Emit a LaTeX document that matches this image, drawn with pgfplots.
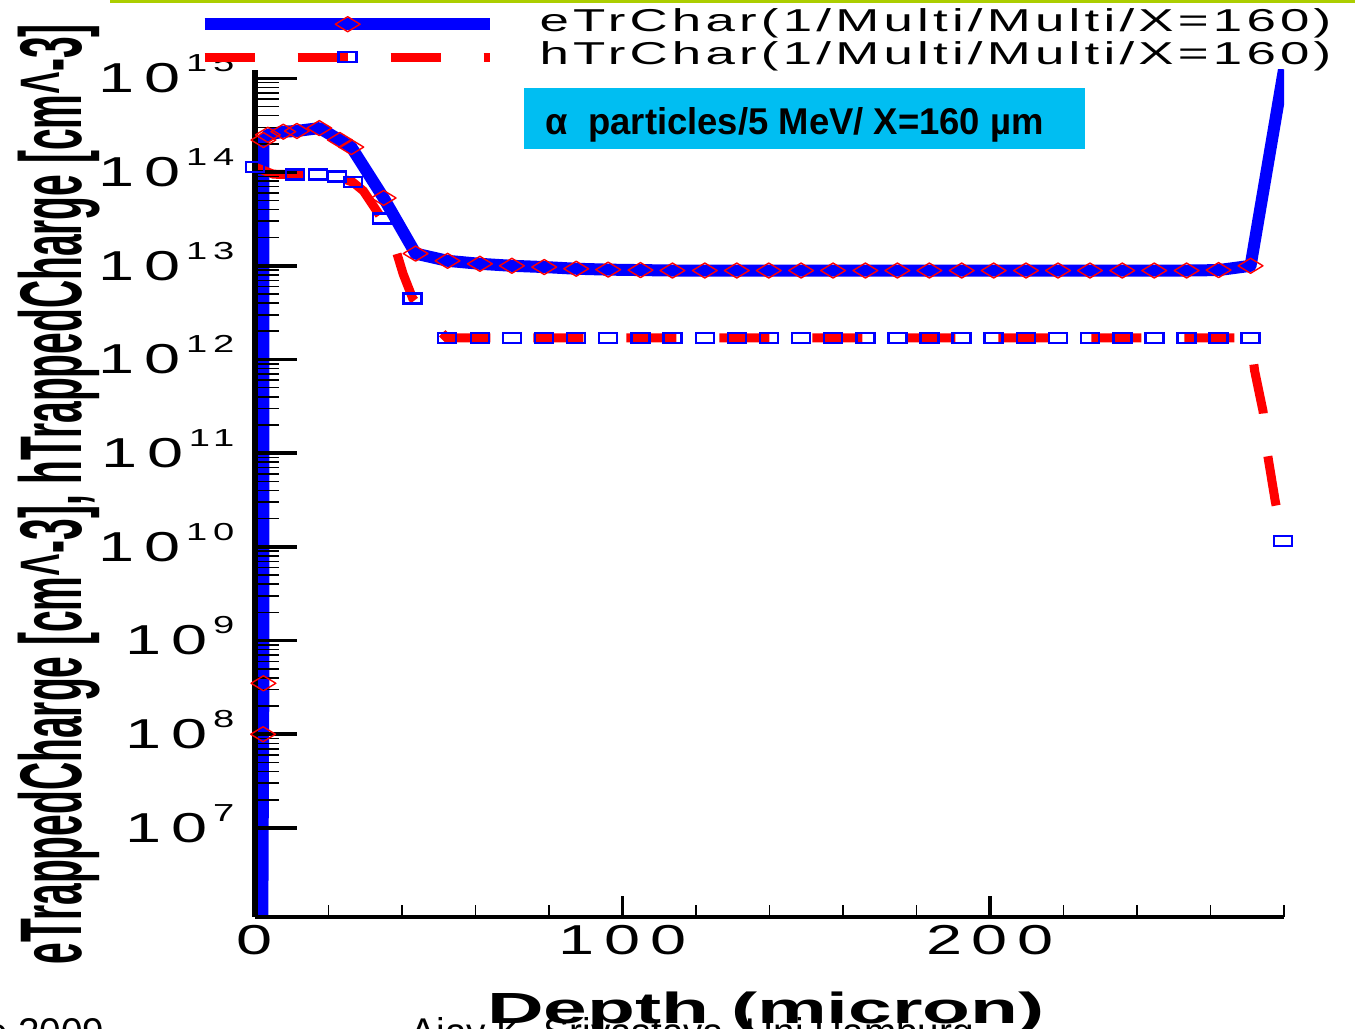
\documentclass[border=0pt]{standalone}
\usepackage{pgfplots}
\pgfplotsset{compat=1.18}
\usepackage{fontspec}
\setmainfont{Liberation Sans}
\usepackage{graphicx}

\definecolor{topgreen}{RGB}{172,206,0}
\definecolor{boxcyan}{RGB}{0,190,242}

% tick labels: stretched, letter-spaced sans digits, as in the screenshot
\newcommand\yl[1]{\scalebox{1.55}[1]{\fontsize{11.9}{12}\selectfont\addfontfeature{LetterSpace=15}10\kern1pt\smash{\raisebox{0.21cm}{\fontsize{7}{8}\selectfont\addfontfeature{LetterSpace=15}#1}}}}
\newcommand\xl[1]{\scalebox{1.55}[1]{\fontsize{11.9}{12}\selectfont\addfontfeature{LetterSpace=15}#1}}
\newcommand\legtxt[1]{\scalebox{1.67}[1]{\fontsize{9}{11}\selectfont\addfontfeature{LetterSpace=8}#1}}

\begin{document}
\begin{tikzpicture}
\useasboundingbox (0,0) rectangle (13.55,-10.28);
\clip (0,0) rectangle (13.55,-10.28);

\fill[topgreen] (1.10,0.05) rectangle (13.60,-0.035);

% slide footer, cut off at the bottom
\node[anchor=base east, inner sep=0pt, font=\fontsize{11}{13}\selectfont] at (1.05,-10.45) {June 2009};
\node[anchor=base west, inner sep=0pt, font=\fontsize{11}{13}\selectfont] at (4.10,-10.45) {Ajay K. Srivastava, Uni Hamburg};

% annotation box
\fill[boxcyan] (5.24,-0.88) rectangle (10.85,-1.49);
\node[anchor=base west, inner sep=0pt] at (5.45,-1.35) {\resizebox{4.98cm}{0.27cm}{\fontsize{10.3}{12}\selectfont\bfseries α\ \ particles/5 MeV/ X=160 µm}};

\begin{axis}[
    at={(2.55cm,-9.17cm)}, anchor=south west,
    scale only axis, width=10.29cm, height=8.47cm,
    ymode=log,
    xmin=0, xmax=280, ymin=1.12e6, ymax=1.23e15,
    axis lines=left,
    axis line style={-},
    x axis line style={line width=1.1pt},
    y axis line style={line width=1.7pt},
    axis on top,
    clip=true,
    tick align=inside,
    major tick length=0.42cm, minor tick length=0.24cm,
    xtick style={/pgfplots/major tick length=0.21cm, /pgfplots/minor tick length=0.12cm},
    every major tick/.append style={line width=1pt, black},
    every minor tick/.append style={line width=0.45pt, black},
    xtick={0,100,200},
    xticklabels={\xl{0},\xl{100},\xl{200}},
    minor xtick={20,40,60,80,120,140,160,180,220,240,260,280},
    ytick={1e7,1e8,1e9,1e10,1e11,1e12,1e13,1e14,1e15},
    yticklabels={\yl{7},\yl{8},\yl{9},\yl{10},\yl{11},\yl{12},\yl{13},\yl{14},\yl{15}},
    yticklabel style={anchor=east, inner sep=0pt, xshift=-0.2cm},
    xticklabel style={anchor=north, inner sep=0pt, yshift=-0.08cm},
    xlabel={\scalebox{1.8}[1]{\fontsize{12.4}{14}\selectfont\bfseries Depth (micron)}},
    xlabel style={at={(axis description cs:0.4966,-0.1263)}, anchor=base, inner sep=0pt},
    ylabel={\resizebox*{9.40cm}{0.82cm}{\bfseries eTrappedCharge [cm\textasciicircum-3], hTrappedCharge [cm\textasciicircum-3]}},
    ylabel style={at={(axis description cs:-0.1905,0.4994)}, anchor=center, inner sep=0pt},
    legend style={at={(axis description cs:-0.0554,1.072)}, anchor=north west,
        draw=none, fill=none, inner sep=0pt, row sep=0.04cm,
        nodes={inner sep=0pt, anchor=west, text height=0.22cm, text depth=0.07cm}},
    legend cell align=left,
    legend image code/.code={\draw[#1, mark indices={2}] plot coordinates {(0cm,0cm) (1.43cm,0cm) (2.85cm,0cm)}; \path[draw=none] (2.85cm,0cm) -- (3.35cm,0cm);},
]

\addplot[blue, line width=0.12cm, line join=round,
    mark=diamond, mark size=0.075cm,
    mark options={solid, draw=red, fill=none, line width=0.4pt, xscale=2.2},
    mark indices={1,2,3,4,5,6,7,8,9,10,11,12,13,14,15,16,17,18,19,20,21,22,23,24,25,26,27,28,29,30,31,32,33,34,35,36,37,38}
] coordinates {
(2.0,1.1e6) (2.2,1.0e8) (2.3,3.5e8) (2.3,2.2e14) (3.5,2.5e14) (7.7,2.7e14)
(11.4,2.75e14) (17.5,2.95e14) (23.1,2.2e14) (26.2,1.85e14) (35.0,5.3e13)
(43.7,1.35e13) (52.4,1.13e13) (61.2,1.05e13) (69.9,1.0e13) (78.7,9.7e12)
(87.4,9.3e12) (96.1,9.1e12) (104.9,9.0e12) (113.6,8.9e12) (122.4,8.9e12)
(131.1,8.9e12) (139.8,8.9e12) (148.6,8.9e12) (157.3,8.9e12) (166.1,8.9e12)
(174.8,8.9e12) (183.5,8.9e12) (192.3,8.9e12) (201.0,8.9e12) (209.8,8.9e12)
(218.5,8.9e12) (227.2,8.9e12) (236.0,8.9e12) (244.7,8.9e12) (253.5,8.9e12)
(262.2,9.0e12) (270.9,1.0e13) (280,1.25e15)
};
\addlegendentry{\legtxt{eTrChar(1/Multi/Multi/X=160)}}

\addplot[red, line width=0.09cm, dash pattern=on 0.5cm off 0.43cm,
    mark=square, mark size=0.05cm,
    mark options={solid, draw=blue, fill=none, line width=0.7pt, xscale=1.8},
    mark indices={1,3,4,5,6,8,11,13,14,15,16,17,18,19,20,21,22,23,24,25,26,27,28,29,30,31,32,33,34,35,36,37,38,43}
] coordinates {
(0,1.13e14) (5,9.5e13) (10.9,9.4e13) (17.1,9.4e13) (22.3,9.0e13) (26.6,7.8e13)
(29.5,6.3e13) (34.5,3.2e13) (36.7,2.4e13) (40.3,8.2e12) (42.9,4.5e12)
(47.6,2.6e12) (52.2,1.7e12) (61.2,1.7e12) (69.9,1.7e12) (78.7,1.7e12)
(87.4,1.7e12) (96.1,1.7e12) (104.9,1.7e12) (113.6,1.7e12) (122.4,1.7e12)
(131.1,1.7e12) (139.8,1.7e12) (148.6,1.7e12) (157.3,1.7e12) (166.1,1.7e12)
(174.8,1.7e12) (183.5,1.7e12) (192.3,1.7e12) (201.0,1.7e12) (209.8,1.7e12)
(218.5,1.7e12) (227.2,1.7e12) (236.0,1.7e12) (244.7,1.7e12) (253.5,1.7e12)
(262.2,1.7e12) (270.9,1.7e12) (272,7.6e11) (274.3,2.8e11) (275.6,9.3e10)
(277.6,3.1e10) (279.7,1.15e10)
};
\addlegendentry{\legtxt{hTrChar(1/Multi/Multi/X=160)}}

\end{axis}
\end{tikzpicture}
\end{document}
